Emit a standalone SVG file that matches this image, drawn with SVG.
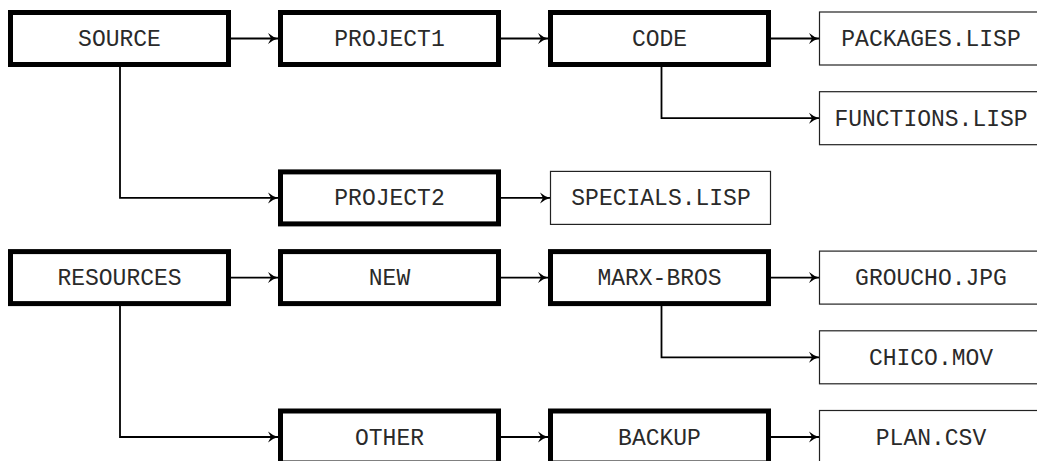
<svg xmlns="http://www.w3.org/2000/svg" width="1037" height="461" viewBox="0 0 1037 461">
<defs>
<style>
.thick{fill:#fff;stroke:#000;stroke-width:5}
.thin{fill:#fff;stroke:#222;stroke-width:1.2}
.t{font-family:"Liberation Mono","DejaVu Sans Mono",monospace;font-size:23px;fill:#2a2a2a;text-anchor:middle}
.c{fill:none;stroke:#000;stroke-width:1.8}
</style>
<marker id="ah" markerUnits="userSpaceOnUse" markerWidth="14" markerHeight="14" viewBox="-12 -7 14 14" refX="0" refY="0" orient="auto">
<path d="M-10,-5.5 Q-5,-1.2 0,0 Q-5,1.2 -10,5.5 L-7,0 Z" fill="#000"/>
</marker>
</defs>
<rect width="1037" height="461" fill="#fff"/>
<g id="connectors">
<path class="c" marker-end="url(#ah)" d="M231,38.5 H278"/>
<path class="c" marker-end="url(#ah)" d="M501,38.5 H548"/>
<path class="c" marker-end="url(#ah)" d="M771,38.5 H819"/>
<path class="c" marker-end="url(#ah)" d="M661.5,67 V118.2 H819"/>
<path class="c" marker-end="url(#ah)" d="M120,67 V197.9 H278"/>
<path class="c" marker-end="url(#ah)" d="M501,197.9 H550"/>
<path class="c" marker-end="url(#ah)" d="M231,277.6 H278"/>
<path class="c" marker-end="url(#ah)" d="M501,277.6 H548"/>
<path class="c" marker-end="url(#ah)" d="M771,277.6 H819"/>
<path class="c" marker-end="url(#ah)" d="M661.5,306 V357.3 H819"/>
<path class="c" marker-end="url(#ah)" d="M120,306 V437 H278"/>
<path class="c" marker-end="url(#ah)" d="M501,437 H548"/>
<path class="c" marker-end="url(#ah)" d="M771,437 H819"/>
</g>
<g id="source"><rect class="thick" x="10.5" y="12.5" width="218" height="52"/><text class="t" x="119.5" y="46">SOURCE</text></g>
<g id="project1"><rect class="thick" x="280.5" y="12.5" width="218" height="52"/><text class="t" x="389.5" y="46">PROJECT1</text></g>
<g id="code"><rect class="thick" x="550.5" y="12.5" width="218" height="52"/><text class="t" x="659.5" y="46">CODE</text></g>
<g id="packages"><rect class="thin" x="819.5" y="12" width="222" height="53"/><text class="t" x="931" y="46">PACKAGES.LISP</text></g>
<g id="functions"><rect class="thin" x="819.5" y="91.7" width="222" height="53"/><text class="t" x="931" y="125.7">FUNCTIONS.LISP</text></g>
<g id="project2"><rect class="thick" x="280.5" y="171.9" width="218" height="52"/><text class="t" x="389.5" y="205.4">PROJECT2</text></g>
<g id="specials"><rect class="thin" x="550.5" y="171.4" width="220" height="53"/><text class="t" x="661" y="205.4">SPECIALS.LISP</text></g>
<g id="resources"><rect class="thick" x="10.5" y="251.6" width="218" height="52"/><text class="t" x="119.5" y="285.1">RESOURCES</text></g>
<g id="new"><rect class="thick" x="280.5" y="251.6" width="218" height="52"/><text class="t" x="389.5" y="285.1">NEW</text></g>
<g id="marx-bros"><rect class="thick" x="550.5" y="251.6" width="218" height="52"/><text class="t" x="659.5" y="285.1">MARX-BROS</text></g>
<g id="groucho"><rect class="thin" x="819.5" y="251.1" width="222" height="53"/><text class="t" x="931" y="285.1">GROUCHO.JPG</text></g>
<g id="chico"><rect class="thin" x="819.5" y="330.8" width="222" height="53"/><text class="t" x="931" y="364.8">CHICO.MOV</text></g>
<g id="other"><rect class="thick" x="280.5" y="411" width="218" height="52"/><text class="t" x="389.5" y="444.5">OTHER</text></g>
<g id="backup"><rect class="thick" x="550.5" y="411" width="218" height="52"/><text class="t" x="659.5" y="444.5">BACKUP</text></g>
<g id="plan"><rect class="thin" x="819.5" y="410.5" width="222" height="53"/><text class="t" x="931" y="444.5">PLAN.CSV</text></g>
</svg>
